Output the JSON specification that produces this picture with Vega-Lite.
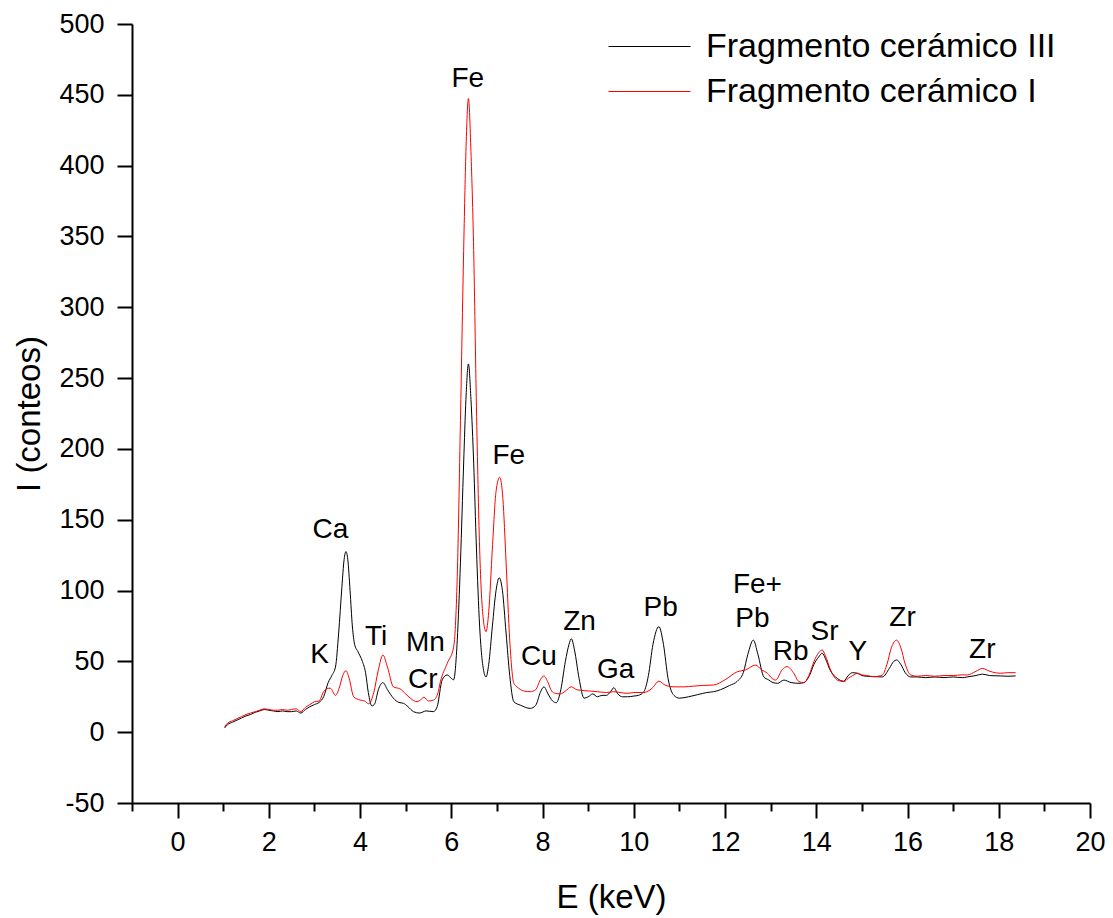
{
  "$schema": "https://vega.github.io/schema/vega-lite/v6.json",
  "width": 958,
  "height": 779,
  "autosize": {"type": "none"},
  "padding": {"left": 132, "top": 24, "right": 23, "bottom": 115},
  "config": {
    "view": {"stroke": null},
    "font": "Liberation Sans",
    "axis": {"grid": false, "domainColor": "#000", "domainWidth": 2, "tickColor": "#000", "tickWidth": 2, "labelColor": "#000", "titleColor": "#000", "labelFont": "Liberation Sans", "titleFont": "Liberation Sans", "titleFontWeight": "normal", "labelFontSize": 27, "titleFontSize": 33}
  },
  "datasets": {
    "spectra": [
      {"serie":"Fragmento cerámico III","E":1.03,"I":3},{"serie":"Fragmento cerámico III","E":1.1,"I":5.5},{"serie":"Fragmento cerámico III","E":1.2,"I":7},{"serie":"Fragmento cerámico III","E":1.3,"I":8.5},{"serie":"Fragmento cerámico III","E":1.4,"I":10},{"serie":"Fragmento cerámico III","E":1.5,"I":11.5},{"serie":"Fragmento cerámico III","E":1.6,"I":12.5},{"serie":"Fragmento cerámico III","E":1.7,"I":14},{"serie":"Fragmento cerámico III","E":1.8,"I":15},{"serie":"Fragmento cerámico III","E":1.9,"I":16},{"serie":"Fragmento cerámico III","E":2.0,"I":15.5},{"serie":"Fragmento cerámico III","E":2.1,"I":15},{"serie":"Fragmento cerámico III","E":2.2,"I":14.5},{"serie":"Fragmento cerámico III","E":2.3,"I":15},{"serie":"Fragmento cerámico III","E":2.4,"I":14.5},{"serie":"Fragmento cerámico III","E":2.5,"I":14.5},{"serie":"Fragmento cerámico III","E":2.6,"I":15},{"serie":"Fragmento cerámico III","E":2.7,"I":13.5},{"serie":"Fragmento cerámico III","E":2.8,"I":16},{"serie":"Fragmento cerámico III","E":2.9,"I":18},{"serie":"Fragmento cerámico III","E":3.0,"I":19.5},{"serie":"Fragmento cerámico III","E":3.1,"I":21},{"serie":"Fragmento cerámico III","E":3.2,"I":25},{"serie":"Fragmento cerámico III","E":3.3,"I":35},{"serie":"Fragmento cerámico III","E":3.38,"I":40},{"serie":"Fragmento cerámico III","E":3.46,"I":46},{"serie":"Fragmento cerámico III","E":3.53,"I":70},{"serie":"Fragmento cerámico III","E":3.6,"I":102},{"serie":"Fragmento cerámico III","E":3.65,"I":122},{"serie":"Fragmento cerámico III","E":3.69,"I":127.5},{"serie":"Fragmento cerámico III","E":3.73,"I":122},{"serie":"Fragmento cerámico III","E":3.78,"I":100},{"serie":"Fragmento cerámico III","E":3.83,"I":75},{"serie":"Fragmento cerámico III","E":3.88,"I":62},{"serie":"Fragmento cerámico III","E":3.95,"I":57},{"serie":"Fragmento cerámico III","E":4.05,"I":50},{"serie":"Fragmento cerámico III","E":4.12,"I":42},{"serie":"Fragmento cerámico III","E":4.18,"I":28},{"serie":"Fragmento cerámico III","E":4.26,"I":18.5},{"serie":"Fragmento cerámico III","E":4.32,"I":20},{"serie":"Fragmento cerámico III","E":4.4,"I":30},{"serie":"Fragmento cerámico III","E":4.5,"I":35},{"serie":"Fragmento cerámico III","E":4.6,"I":30},{"serie":"Fragmento cerámico III","E":4.73,"I":24},{"serie":"Fragmento cerámico III","E":4.85,"I":21},{"serie":"Fragmento cerámico III","E":4.95,"I":20.4},{"serie":"Fragmento cerámico III","E":5.05,"I":18},{"serie":"Fragmento cerámico III","E":5.17,"I":14.5},{"serie":"Fragmento cerámico III","E":5.3,"I":13.5},{"serie":"Fragmento cerámico III","E":5.45,"I":15},{"serie":"Fragmento cerámico III","E":5.61,"I":14.5},{"serie":"Fragmento cerámico III","E":5.69,"I":18},{"serie":"Fragmento cerámico III","E":5.8,"I":37},{"serie":"Fragmento cerámico III","E":5.91,"I":40.4},{"serie":"Fragmento cerámico III","E":6.0,"I":38},{"serie":"Fragmento cerámico III","E":6.05,"I":37},{"serie":"Fragmento cerámico III","E":6.13,"I":65},{"serie":"Fragmento cerámico III","E":6.2,"I":120},{"serie":"Fragmento cerámico III","E":6.27,"I":190},{"serie":"Fragmento cerámico III","E":6.32,"I":235},{"serie":"Fragmento cerámico III","E":6.375,"I":260},{"serie":"Fragmento cerámico III","E":6.43,"I":235},{"serie":"Fragmento cerámico III","E":6.49,"I":190},{"serie":"Fragmento cerámico III","E":6.55,"I":130},{"serie":"Fragmento cerámico III","E":6.62,"I":75},{"serie":"Fragmento cerámico III","E":6.7,"I":45},{"serie":"Fragmento cerámico III","E":6.76,"I":39},{"serie":"Fragmento cerámico III","E":6.82,"I":48},{"serie":"Fragmento cerámico III","E":6.9,"I":75},{"serie":"Fragmento cerámico III","E":6.98,"I":100},{"serie":"Fragmento cerámico III","E":7.05,"I":109},{"serie":"Fragmento cerámico III","E":7.12,"I":100},{"serie":"Fragmento cerámico III","E":7.2,"I":70},{"serie":"Fragmento cerámico III","E":7.28,"I":40},{"serie":"Fragmento cerámico III","E":7.37,"I":21.5},{"serie":"Fragmento cerámico III","E":7.52,"I":19},{"serie":"Fragmento cerámico III","E":7.73,"I":16.8},{"serie":"Fragmento cerámico III","E":7.85,"I":19},{"serie":"Fragmento cerámico III","E":7.95,"I":28},{"serie":"Fragmento cerámico III","E":8.03,"I":32},{"serie":"Fragmento cerámico III","E":8.12,"I":27},{"serie":"Fragmento cerámico III","E":8.22,"I":22},{"serie":"Fragmento cerámico III","E":8.3,"I":20.8},{"serie":"Fragmento cerámico III","E":8.4,"I":30},{"serie":"Fragmento cerámico III","E":8.5,"I":50},{"serie":"Fragmento cerámico III","E":8.58,"I":62},{"serie":"Fragmento cerámico III","E":8.63,"I":66},{"serie":"Fragmento cerámico III","E":8.7,"I":58},{"serie":"Fragmento cerámico III","E":8.8,"I":38},{"serie":"Fragmento cerámico III","E":8.91,"I":24},{"serie":"Fragmento cerámico III","E":9.0,"I":25},{"serie":"Fragmento cerámico III","E":9.1,"I":27},{"serie":"Fragmento cerámico III","E":9.2,"I":25},{"serie":"Fragmento cerámico III","E":9.3,"I":26},{"serie":"Fragmento cerámico III","E":9.4,"I":26},{"serie":"Fragmento cerámico III","E":9.5,"I":29},{"serie":"Fragmento cerámico III","E":9.56,"I":31.4},{"serie":"Fragmento cerámico III","E":9.65,"I":27},{"serie":"Fragmento cerámico III","E":9.75,"I":25},{"serie":"Fragmento cerámico III","E":9.86,"I":25},{"serie":"Fragmento cerámico III","E":10.0,"I":25.5},{"serie":"Fragmento cerámico III","E":10.1,"I":26},{"serie":"Fragmento cerámico III","E":10.22,"I":28.6},{"serie":"Fragmento cerámico III","E":10.32,"I":40},{"serie":"Fragmento cerámico III","E":10.42,"I":62},{"serie":"Fragmento cerámico III","E":10.55,"I":74.5},{"serie":"Fragmento cerámico III","E":10.65,"I":62},{"serie":"Fragmento cerámico III","E":10.75,"I":38},{"serie":"Fragmento cerámico III","E":10.88,"I":26},{"serie":"Fragmento cerámico III","E":11.0,"I":24},{"serie":"Fragmento cerámico III","E":11.2,"I":25},{"serie":"Fragmento cerámico III","E":11.4,"I":26.5},{"serie":"Fragmento cerámico III","E":11.6,"I":28},{"serie":"Fragmento cerámico III","E":11.75,"I":28.6},{"serie":"Fragmento cerámico III","E":11.9,"I":30},{"serie":"Fragmento cerámico III","E":12.1,"I":33},{"serie":"Fragmento cerámico III","E":12.27,"I":36},{"serie":"Fragmento cerámico III","E":12.4,"I":42},{"serie":"Fragmento cerámico III","E":12.5,"I":55},{"serie":"Fragmento cerámico III","E":12.62,"I":65},{"serie":"Fragmento cerámico III","E":12.72,"I":55},{"serie":"Fragmento cerámico III","E":12.85,"I":39},{"serie":"Fragmento cerámico III","E":12.95,"I":37},{"serie":"Fragmento cerámico III","E":13.05,"I":35},{"serie":"Fragmento cerámico III","E":13.15,"I":34.5},{"serie":"Fragmento cerámico III","E":13.29,"I":36.8},{"serie":"Fragmento cerámico III","E":13.45,"I":35},{"serie":"Fragmento cerámico III","E":13.62,"I":34.5},{"serie":"Fragmento cerámico III","E":13.73,"I":35},{"serie":"Fragmento cerámico III","E":13.85,"I":40},{"serie":"Fragmento cerámico III","E":13.95,"I":48},{"serie":"Fragmento cerámico III","E":14.05,"I":53},{"serie":"Fragmento cerámico III","E":14.13,"I":55.7},{"serie":"Fragmento cerámico III","E":14.2,"I":52},{"serie":"Fragmento cerámico III","E":14.3,"I":44},{"serie":"Fragmento cerámico III","E":14.46,"I":38},{"serie":"Fragmento cerámico III","E":14.6,"I":36},{"serie":"Fragmento cerámico III","E":14.7,"I":40},{"serie":"Fragmento cerámico III","E":14.79,"I":42},{"serie":"Fragmento cerámico III","E":14.9,"I":41.6},{"serie":"Fragmento cerámico III","E":15.0,"I":40},{"serie":"Fragmento cerámico III","E":15.1,"I":39.5},{"serie":"Fragmento cerámico III","E":15.27,"I":39.2},{"serie":"Fragmento cerámico III","E":15.45,"I":39},{"serie":"Fragmento cerámico III","E":15.6,"I":45},{"serie":"Fragmento cerámico III","E":15.7,"I":50},{"serie":"Fragmento cerámico III","E":15.76,"I":51},{"serie":"Fragmento cerámico III","E":15.85,"I":48},{"serie":"Fragmento cerámico III","E":15.95,"I":42},{"serie":"Fragmento cerámico III","E":16.07,"I":39},{"serie":"Fragmento cerámico III","E":16.21,"I":39},{"serie":"Fragmento cerámico III","E":16.4,"I":38.5},{"serie":"Fragmento cerámico III","E":16.6,"I":39},{"serie":"Fragmento cerámico III","E":16.8,"I":38.5},{"serie":"Fragmento cerámico III","E":17.0,"I":39},{"serie":"Fragmento cerámico III","E":17.2,"I":38.5},{"serie":"Fragmento cerámico III","E":17.31,"I":39},{"serie":"Fragmento cerámico III","E":17.5,"I":40},{"serie":"Fragmento cerámico III","E":17.64,"I":41},{"serie":"Fragmento cerámico III","E":17.8,"I":40},{"serie":"Fragmento cerámico III","E":18.04,"I":39.7},{"serie":"Fragmento cerámico III","E":18.2,"I":39.5},{"serie":"Fragmento cerámico III","E":18.37,"I":39.7},
      {"serie":"Fragmento cerámico I","E":1.03,"I":4},{"serie":"Fragmento cerámico I","E":1.1,"I":6.5},{"serie":"Fragmento cerámico I","E":1.2,"I":8},{"serie":"Fragmento cerámico I","E":1.3,"I":9.5},{"serie":"Fragmento cerámico I","E":1.4,"I":11},{"serie":"Fragmento cerámico I","E":1.5,"I":12.5},{"serie":"Fragmento cerámico I","E":1.6,"I":13.5},{"serie":"Fragmento cerámico I","E":1.7,"I":14.5},{"serie":"Fragmento cerámico I","E":1.8,"I":15.5},{"serie":"Fragmento cerámico I","E":1.9,"I":16.5},{"serie":"Fragmento cerámico I","E":2.0,"I":16},{"serie":"Fragmento cerámico I","E":2.1,"I":15.5},{"serie":"Fragmento cerámico I","E":2.2,"I":15.5},{"serie":"Fragmento cerámico I","E":2.3,"I":16},{"serie":"Fragmento cerámico I","E":2.4,"I":15.5},{"serie":"Fragmento cerámico I","E":2.5,"I":16},{"serie":"Fragmento cerámico I","E":2.6,"I":16.5},{"serie":"Fragmento cerámico I","E":2.7,"I":14.5},{"serie":"Fragmento cerámico I","E":2.8,"I":17.5},{"serie":"Fragmento cerámico I","E":2.9,"I":19.5},{"serie":"Fragmento cerámico I","E":3.0,"I":21.5},{"serie":"Fragmento cerámico I","E":3.1,"I":22},{"serie":"Fragmento cerámico I","E":3.2,"I":28.6},{"serie":"Fragmento cerámico I","E":3.3,"I":31},{"serie":"Fragmento cerámico I","E":3.35,"I":31},{"serie":"Fragmento cerámico I","E":3.46,"I":26},{"serie":"Fragmento cerámico I","E":3.55,"I":32},{"serie":"Fragmento cerámico I","E":3.62,"I":40},{"serie":"Fragmento cerámico I","E":3.69,"I":43.4},{"serie":"Fragmento cerámico I","E":3.76,"I":38},{"serie":"Fragmento cerámico I","E":3.86,"I":25},{"serie":"Fragmento cerámico I","E":4.0,"I":22.7},{"serie":"Fragmento cerámico I","E":4.1,"I":22},{"serie":"Fragmento cerámico I","E":4.19,"I":20},{"serie":"Fragmento cerámico I","E":4.3,"I":28},{"serie":"Fragmento cerámico I","E":4.4,"I":44},{"serie":"Fragmento cerámico I","E":4.5,"I":54.5},{"serie":"Fragmento cerámico I","E":4.6,"I":46},{"serie":"Fragmento cerámico I","E":4.73,"I":32},{"serie":"Fragmento cerámico I","E":4.88,"I":30.5},{"serie":"Fragmento cerámico I","E":5.0,"I":27},{"serie":"Fragmento cerámico I","E":5.1,"I":24},{"serie":"Fragmento cerámico I","E":5.25,"I":21.5},{"serie":"Fragmento cerámico I","E":5.33,"I":23},{"serie":"Fragmento cerámico I","E":5.4,"I":24.6},{"serie":"Fragmento cerámico I","E":5.5,"I":22},{"serie":"Fragmento cerámico I","E":5.61,"I":22.7},{"serie":"Fragmento cerámico I","E":5.7,"I":27},{"serie":"Fragmento cerámico I","E":5.76,"I":35.6},{"serie":"Fragmento cerámico I","E":5.91,"I":48.6},{"serie":"Fragmento cerámico I","E":6.05,"I":60},{"serie":"Fragmento cerámico I","E":6.13,"I":110},{"serie":"Fragmento cerámico I","E":6.2,"I":220},{"serie":"Fragmento cerámico I","E":6.27,"I":340},{"serie":"Fragmento cerámico I","E":6.32,"I":410},{"serie":"Fragmento cerámico I","E":6.375,"I":447.5},{"serie":"Fragmento cerámico I","E":6.43,"I":410},{"serie":"Fragmento cerámico I","E":6.49,"I":340},{"serie":"Fragmento cerámico I","E":6.55,"I":230},{"serie":"Fragmento cerámico I","E":6.62,"I":130},{"serie":"Fragmento cerámico I","E":6.7,"I":80},{"serie":"Fragmento cerámico I","E":6.76,"I":71},{"serie":"Fragmento cerámico I","E":6.82,"I":85},{"serie":"Fragmento cerámico I","E":6.9,"I":130},{"serie":"Fragmento cerámico I","E":6.98,"I":170},{"serie":"Fragmento cerámico I","E":7.06,"I":180},{"serie":"Fragmento cerámico I","E":7.13,"I":165},{"serie":"Fragmento cerámico I","E":7.2,"I":120},{"serie":"Fragmento cerámico I","E":7.28,"I":65},{"serie":"Fragmento cerámico I","E":7.37,"I":34.5},{"serie":"Fragmento cerámico I","E":7.44,"I":32},{"serie":"Fragmento cerámico I","E":7.6,"I":29},{"serie":"Fragmento cerámico I","E":7.73,"I":28.6},{"serie":"Fragmento cerámico I","E":7.85,"I":30},{"serie":"Fragmento cerámico I","E":7.95,"I":37},{"serie":"Fragmento cerámico I","E":8.03,"I":39.7},{"serie":"Fragmento cerámico I","E":8.12,"I":35},{"serie":"Fragmento cerámico I","E":8.2,"I":29},{"serie":"Fragmento cerámico I","E":8.28,"I":27.4},{"serie":"Fragmento cerámico I","E":8.39,"I":27},{"serie":"Fragmento cerámico I","E":8.5,"I":29},{"serie":"Fragmento cerámico I","E":8.63,"I":32},{"serie":"Fragmento cerámico I","E":8.75,"I":30},{"serie":"Fragmento cerámico I","E":8.91,"I":29.3},{"serie":"Fragmento cerámico I","E":9.05,"I":29},{"serie":"Fragmento cerámico I","E":9.2,"I":28.6},{"serie":"Fragmento cerámico I","E":9.4,"I":28},{"serie":"Fragmento cerámico I","E":9.56,"I":28.6},{"serie":"Fragmento cerámico I","E":9.7,"I":28},{"serie":"Fragmento cerámico I","E":9.86,"I":27.4},{"serie":"Fragmento cerámico I","E":10.0,"I":28},{"serie":"Fragmento cerámico I","E":10.22,"I":28},{"serie":"Fragmento cerámico I","E":10.4,"I":31},{"serie":"Fragmento cerámico I","E":10.55,"I":36},{"serie":"Fragmento cerámico I","E":10.7,"I":33},{"serie":"Fragmento cerámico I","E":10.88,"I":32},{"serie":"Fragmento cerámico I","E":11.1,"I":32},{"serie":"Fragmento cerámico I","E":11.3,"I":32.5},{"serie":"Fragmento cerámico I","E":11.5,"I":33},{"serie":"Fragmento cerámico I","E":11.75,"I":33.3},{"serie":"Fragmento cerámico I","E":12.0,"I":37},{"serie":"Fragmento cerámico I","E":12.27,"I":42.7},{"serie":"Fragmento cerámico I","E":12.45,"I":44},{"serie":"Fragmento cerámico I","E":12.67,"I":47.4},{"serie":"Fragmento cerámico I","E":12.8,"I":44},{"serie":"Fragmento cerámico I","E":12.93,"I":41.6},{"serie":"Fragmento cerámico I","E":13.03,"I":38},{"serie":"Fragmento cerámico I","E":13.11,"I":36.8},{"serie":"Fragmento cerámico I","E":13.25,"I":44},{"serie":"Fragmento cerámico I","E":13.36,"I":46.3},{"serie":"Fragmento cerámico I","E":13.5,"I":42},{"serie":"Fragmento cerámico I","E":13.62,"I":35.7},{"serie":"Fragmento cerámico I","E":13.73,"I":35},{"serie":"Fragmento cerámico I","E":13.85,"I":41},{"serie":"Fragmento cerámico I","E":13.95,"I":50},{"serie":"Fragmento cerámico I","E":14.05,"I":56},{"serie":"Fragmento cerámico I","E":14.13,"I":58},{"serie":"Fragmento cerámico I","E":14.2,"I":54},{"serie":"Fragmento cerámico I","E":14.3,"I":45},{"serie":"Fragmento cerámico I","E":14.46,"I":36.8},{"serie":"Fragmento cerámico I","E":14.61,"I":35.7},{"serie":"Fragmento cerámico I","E":14.7,"I":38},{"serie":"Fragmento cerámico I","E":14.8,"I":40},{"serie":"Fragmento cerámico I","E":14.9,"I":41.6},{"serie":"Fragmento cerámico I","E":15.0,"I":40.5},{"serie":"Fragmento cerámico I","E":15.1,"I":40},{"serie":"Fragmento cerámico I","E":15.27,"I":39.2},{"serie":"Fragmento cerámico I","E":15.45,"I":40.4},{"serie":"Fragmento cerámico I","E":15.55,"I":48},{"serie":"Fragmento cerámico I","E":15.65,"I":60},{"serie":"Fragmento cerámico I","E":15.76,"I":65},{"serie":"Fragmento cerámico I","E":15.85,"I":60},{"serie":"Fragmento cerámico I","E":15.95,"I":48},{"serie":"Fragmento cerámico I","E":16.07,"I":40.4},{"serie":"Fragmento cerámico I","E":16.21,"I":39.5},{"serie":"Fragmento cerámico I","E":16.4,"I":40},{"serie":"Fragmento cerámico I","E":16.6,"I":39.5},{"serie":"Fragmento cerámico I","E":16.8,"I":40},{"serie":"Fragmento cerámico I","E":17.0,"I":40},{"serie":"Fragmento cerámico I","E":17.2,"I":40.5},{"serie":"Fragmento cerámico I","E":17.31,"I":40.4},{"serie":"Fragmento cerámico I","E":17.5,"I":43},{"serie":"Fragmento cerámico I","E":17.64,"I":45},{"serie":"Fragmento cerámico I","E":17.8,"I":43},{"serie":"Fragmento cerámico I","E":18.04,"I":41.6},{"serie":"Fragmento cerámico I","E":18.2,"I":42},{"serie":"Fragmento cerámico I","E":18.37,"I":42}
    ],
    "labels": [
      {"t":"Fe","E":6.36,"I":461},{"t":"Fe","E":7.26,"I":195},{"t":"Ca","E":3.35,"I":143},{"t":"K","E":3.11,"I":54.5},{"t":"Ti","E":4.35,"I":67.4},{"t":"Mn","E":5.43,"I":62.8},{"t":"Cr","E":5.375,"I":36.9},{"t":"Cu","E":7.92,"I":53.3},{"t":"Zn","E":8.81,"I":78},{"t":"Ga","E":9.6,"I":44},{"t":"Pb","E":10.59,"I":87.5},{"t":"Fe+","E":12.71,"I":104},{"t":"Pb","E":12.6,"I":79.7},{"t":"Rb","E":13.44,"I":56.8},{"t":"Sr","E":14.18,"I":71},{"t":"Y","E":14.91,"I":56.8},{"t":"Zr","E":15.89,"I":80.4},{"t":"Zr","E":17.64,"I":58}
    ]
  },
  "layer": [
    {
      "data": {"name": "spectra"},
      "transform": [{"filter": "datum.serie === 'Fragmento cerámico III'"}],
      "mark": {"type": "line", "strokeWidth": 1, "interpolate": "monotone"},
      "encoding": {
        "x": {"field": "E", "type": "quantitative", "scale": {"domain": [-1, 20], "nice": false, "zero": false},
          "axis": {"title": "E (keV)", "values": [-1,0,1,2,3,4,5,6,7,8,9,10,11,12,13,14,15,16,17,18,19,20],
            "labelExpr": "datum.value % 2 === 0 ? '' + datum.value : ''",
            "tickSize": {"condition": {"test": "datum.value % 2 !== 0", "value": 8}, "value": 15},
            "labelPadding": 11, "titlePadding": 26, "labelFlush": false, "labelOverlap": false}},
        "y": {"field": "I", "type": "quantitative", "scale": {"domain": [-50, 500], "nice": false, "zero": false},
          "axis": {"title": "I (conteos)", "values": [-50,-25,0,25,50,75,100,125,150,175,200,225,250,275,300,325,350,375,400,425,450,475,500],
            "labelExpr": "datum.value % 50 === 0 ? '' + datum.value : ''",
            "tickSize": {"condition": {"test": "datum.value % 50 !== 0", "value": 8}, "value": 15},
            "labelPadding": 13, "titlePadding": 12, "labelFlush": false, "labelOverlap": false}},
        "color": {"field": "serie", "type": "nominal",
          "scale": {"domain": ["Fragmento cerámico III", "Fragmento cerámico I"], "range": ["#000000", "#ff0000"]},
          "legend": {"title": null, "orient": "none", "legendX": 476, "legendY": 0, "padding": 0,
            "symbolType": "stroke", "symbolSize": 6724, "symbolStrokeWidth": 1, "labelFontSize": 34, "labelFont": "Liberation Sans", "labelColor": "#000", "labelOffset": 15, "labelLimit": 0, "clipHeight": 45, "rowPadding": 0}}
      }
    },
    {
      "data": {"name": "spectra"},
      "transform": [{"filter": "datum.serie === 'Fragmento cerámico I'"}],
      "mark": {"type": "line", "strokeWidth": 1, "interpolate": "monotone"},
      "encoding": {
        "x": {"field": "E", "type": "quantitative"},
        "y": {"field": "I", "type": "quantitative"},
        "color": {"field": "serie", "type": "nominal"}
      }
    },
    {
      "data": {"name": "labels"},
      "mark": {"type": "text", "fontSize": 28, "font": "Liberation Sans", "color": "#000", "align": "center", "baseline": "middle"},
      "encoding": {
        "x": {"field": "E", "type": "quantitative"},
        "y": {"field": "I", "type": "quantitative"},
        "text": {"field": "t"}
      }
    }
  ]
}
